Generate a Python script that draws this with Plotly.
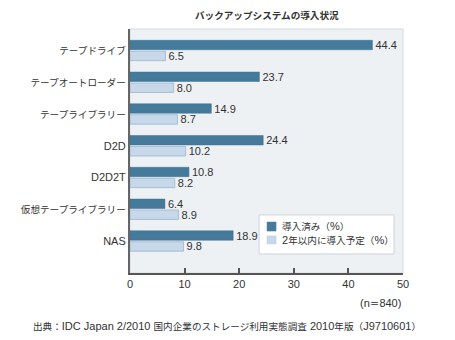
import re
import plotly.graph_objects as go

categories = ["テープドライブ", "テープオートローダー", "テープライブラリー", "D2D", "D2D2T", "仮想テープライブラリー", "NAS"]
installed = [44.4, 23.7, 14.9, 24.4, 10.8, 6.4, 18.9]
planned = [6.5, 8.0, 8.7, 10.2, 8.2, 8.9, 9.8]
series_names = ["導入済み（%）", "2年以内に導入予定（%）"]
x_ticks = [0, 10, 20, 30, 40, 50]
title_text = "バックアップシステムの導入状況"
n_text = "(n＝840)"
source_text = "出典：IDC Japan 2/2010 国内企業のストレージ利用実態調査 2010年版（J9710601）"

FONT = "Liberation Sans, Arial, Noto Sans CJK JP, sans-serif"
TXT = "#333333"
DARK = "#467A9A"
LIGHT = "#C6D8E9"
CJK_SIZE = 9.6


def cjk(s):
    """Render CJK runs slightly smaller, like the narrow Japanese UI font in the original."""
    return re.sub(r"([^\x00-\x7f]+)", r'<span style="font-size:%spx">\1</span>' % CJK_SIZE, s)


fig = go.Figure()
fig.add_trace(go.Bar(
    y=categories, x=installed, orientation="h", name=series_names[0],
    marker=dict(color=DARK, line=dict(color="#3f7090", width=0.5)),
    text=installed, texttemplate="%{x:.1f}", textposition="outside",
    constraintext="none",
    textfont=dict(size=11, color=TXT, family=FONT), cliponaxis=False,
    showlegend=False,
))
fig.add_trace(go.Bar(
    y=categories, x=planned, orientation="h", name=series_names[1],
    marker=dict(color=LIGHT, line=dict(color="#a9bfd3", width=1)),
    text=planned, texttemplate="%{x:.1f}", textposition="outside",
    constraintext="none",
    textfont=dict(size=11, color=TXT, family=FONT), cliponaxis=False,
    showlegend=False,
))

# manual legend (box, swatches, labels)
shapes = [
    dict(type="rect", xref="paper", yref="paper", x0=0, x1=1, y0=0, y1=1,
         line=dict(color="#d5dadd", width=1), layer="below"),
    dict(type="rect", xref="paper", yref="paper", x0=0.473, x1=0.967, y0=0.078, y1=0.238,
         fillcolor="white", line=dict(color="#cfd4d8", width=1)),
    dict(type="rect", xref="paper", yref="paper", x0=0.502, x1=0.535, y0=0.172, y1=0.209,
         fillcolor=DARK, line=dict(color=DARK, width=0.5)),
    dict(type="rect", xref="paper", yref="paper", x0=0.502, x1=0.535, y0=0.119, y1=0.152,
         fillcolor=LIGHT, line=dict(color="#b8cde0", width=0.5)),
]

annotations = [
    dict(text="<b>" + cjk(title_text) + "</b>", xref="paper", yref="paper",
         x=0.5, y=1.055, xanchor="center", yanchor="middle", showarrow=False,
         font=dict(size=11, color=TXT, family=FONT)),
    dict(text=cjk(n_text), xref="paper", yref="paper", x=1.0, y=-0.123,
         xanchor="right", yanchor="middle", showarrow=False,
         font=dict(size=11, color=TXT, family=FONT)),
    dict(text=cjk(source_text),
         xref="paper", yref="paper", x=0.355, y=-0.217, xanchor="center", yanchor="middle",
         showarrow=False, font=dict(size=11, color=TXT, family=FONT)),
    dict(text=cjk(series_names[0]), xref="paper", yref="paper", x=0.549, y=0.191,
         xanchor="left", yanchor="middle", showarrow=False,
         font=dict(size=11, color=TXT, family=FONT)),
    dict(text=cjk(series_names[1]), xref="paper", yref="paper", x=0.549, y=0.135,
         xanchor="left", yanchor="middle", showarrow=False,
         font=dict(size=11, color=TXT, family=FONT)),
]

fig.update_layout(
    width=455, height=340,
    margin=dict(l=130, r=52, t=29, b=67, autoexpand=False),
    paper_bgcolor="white", plot_bgcolor="#EDF1F4",
    barmode="group", bargap=0.31, bargroupgap=0.14,
    font=dict(family=FONT, size=11, color=TXT),
    showlegend=False,
    shapes=shapes,
    annotations=annotations,
)

fig.update_xaxes(
    range=[0, 50], tickvals=x_ticks, ticktext=[str(v) for v in x_ticks],
    showgrid=False, zeroline=False, automargin=False,
    showline=True, linecolor="#555555", linewidth=2,
    ticks="inside", ticklen=5, tickwidth=1.5, tickcolor="#555555",
    tickfont=dict(size=11, color=TXT),
)
fig.update_yaxes(
    range=[7.008, -0.677], showgrid=False, zeroline=False, automargin=False,
    tickvals=categories, ticktext=[cjk(c) for c in categories],
    showline=True, linecolor="#666666", linewidth=2,
    ticks="", tickfont=dict(size=11, color=TXT), ticklabelstandoff=0,
)

fig.write_html("out.html")
